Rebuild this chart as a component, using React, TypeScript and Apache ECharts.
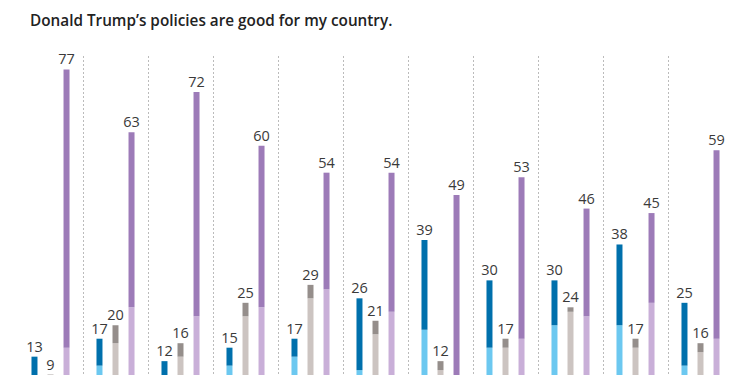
import React, { useEffect, useRef } from "react";
import * as echarts from "echarts";

const categories = ["G1", "G2", "G3", "G4", "G5", "G6", "G7", "G8", "G9", "G10", "G11"];
const blueTotal = [13, 17, 12, 15, 17, 26, 39, 30, 30, 38, 25];
const blueLight = [6, 11, 6, 11, 13, 10, 19, 15, 20, 20, 11];
const grayTotal = [9, 20, 16, 25, 29, 21, 12, 17, 24, 17, 16];
const grayLight = [6, 16, 13, 22, 26, 18, 10, 15, 23, 15, 14];
const purpleTotal = [77, 63, 72, 60, 54, 54, 49, 53, 46, 45, 59];
const purpleLight = [15, 24, 22, 24, 28, 23, 7, 17, 22, 25, 17];

const diff = (t: number[], l: number[]) => t.map((v, i) => v - l[i]);

export default function App() {
  const ref = useRef<HTMLDivElement>(null);
  useEffect(() => {
    if (!ref.current) return;
    const chart = echarts.init(ref.current, null, { renderer: "svg" });
    const labelStyle = (totals: number[]) => ({
      show: true,
      position: "top" as const,
      distance: 3,
      color: "#3a3a3a",
      fontSize: 14.5,
      fontFamily: "Open Sans",
      formatter: (p: any) => String(totals[p.dataIndex]),
    });
    const mk = (name: string, stack: string, data: number[], color: string, label?: any) => ({
      name,
      type: "bar" as const,
      stack,
      data,
      barWidth: 6,
      barGap: "167%",
      itemStyle: { color },
      label: label || { show: false },
      emphasis: { disabled: true },
    });
    chart.setOption({
      animation: false,
      title: {
        text: "Donald Trump\u2019s policies are good for my country.",
        left: 30,
        top: 12,
        padding: 0,
        textStyle: { fontFamily: "Open Sans", fontSize: 15.3, fontWeight: 600, color: "#222" },
      },
      grid: { left: 18, right: 17, top: 56, bottom: 35 },
      xAxis: {
        type: "category",
        data: categories,
        axisLine: { show: false },
        axisTick: { show: false },
        axisLabel: { show: false },
        splitLine: {
          show: true,
          showMinLine: false,
          showMaxLine: false,
          lineStyle: { color: "#bbbbbb", type: [2, 2], width: 1 },
        },
      },
      yAxis: {
        type: "value",
        min: 0,
        max: 80,
        show: false,
        splitLine: { show: false },
      },
      series: [
        mk("blueL", "b", blueLight, "#6CC8F0"),
        mk("blueD", "b", diff(blueTotal, blueLight), "#0070AC", labelStyle(blueTotal)),
        mk("grayL", "g", grayLight, "#CCC4C1"),
        mk("grayD", "g", diff(grayTotal, grayLight), "#958E8B", labelStyle(grayTotal)),
        mk("purpleL", "p", purpleLight, "#C9AFD8"),
        mk("purpleD", "p", diff(purpleTotal, purpleLight), "#9D7BB8", labelStyle(purpleTotal)),
      ],
    });
    return () => chart.dispose();
  }, []);
  return (
    <div
      ref={ref}
      style={{ position: "fixed", left: 0, top: 0, width: 750, height: 450, background: "#fff" }}
    />
  );
}
